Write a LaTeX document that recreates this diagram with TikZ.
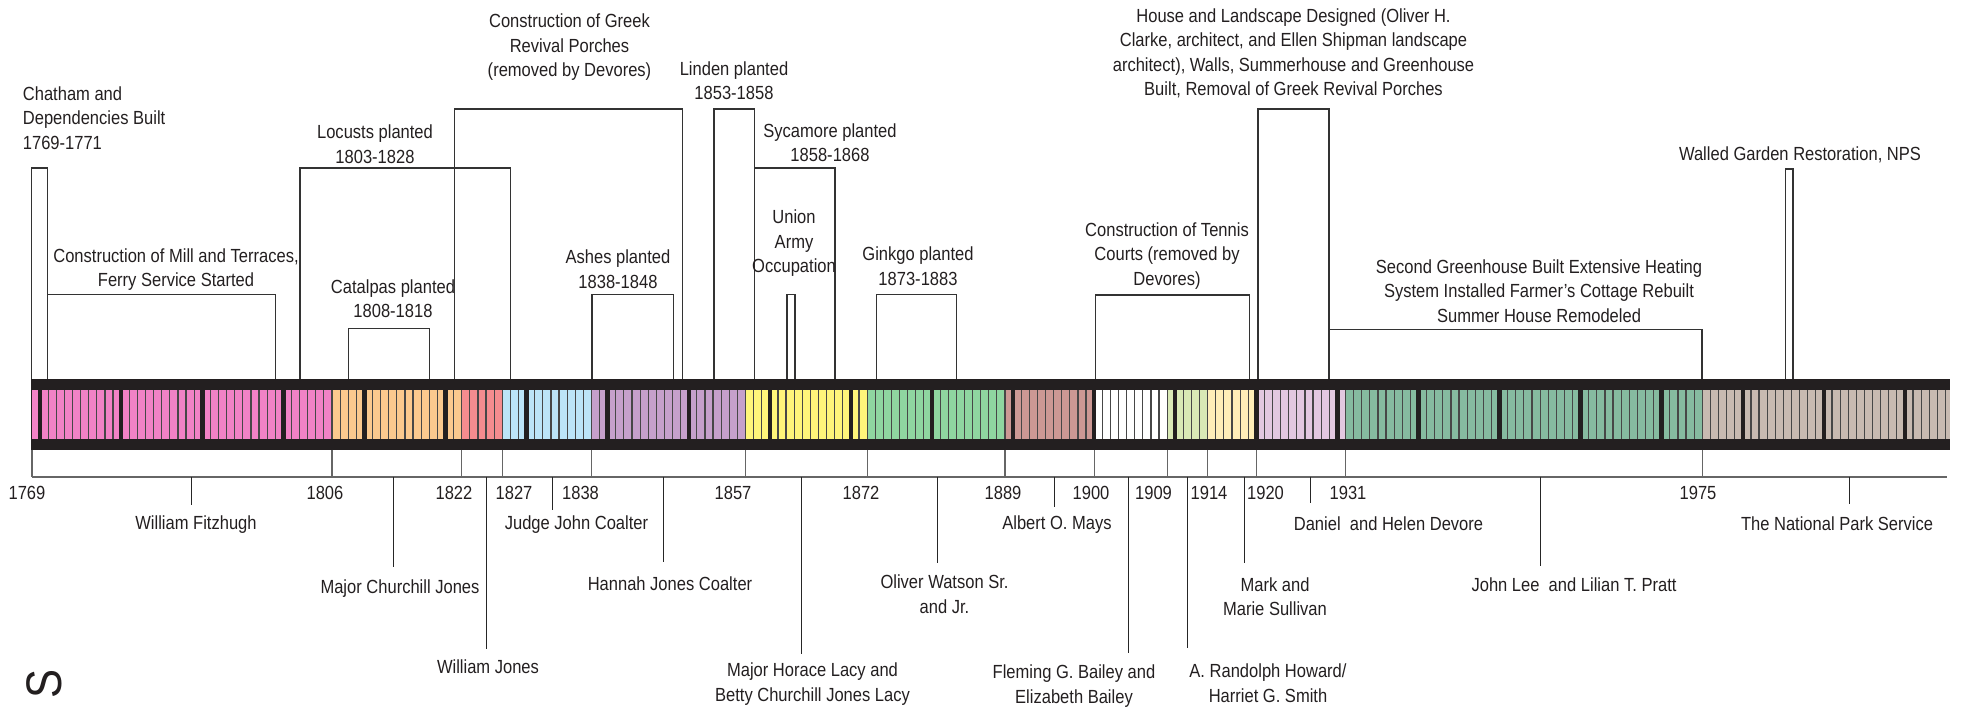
\documentclass[tikz,border=0pt]{standalone}
\usepackage{fontspec}
\setmainfont[FakeStretch=0.87]{Liberation Sans}
\definecolor{barc}{HTML}{231F20}
\definecolor{txt}{HTML}{231F20}
\definecolor{cpink}{HTML}{F282C6}
\definecolor{corange}{HTML}{FBC98E}
\definecolor{csalmon}{HTML}{F58C8F}
\definecolor{cblue}{HTML}{BCE4F7}
\definecolor{cpurple}{HTML}{C6A0CB}
\definecolor{cyellow}{HTML}{FFF57A}
\definecolor{cgreen}{HTML}{8FD6A0}
\definecolor{crosy}{HTML}{CC9894}
\definecolor{cwhite}{HTML}{FFFFFF}
\definecolor{clgreen}{HTML}{D9E9B5}
\definecolor{clyellow}{HTML}{FFEDB8}
\definecolor{clav}{HTML}{E3C8E0}
\definecolor{cteal}{HTML}{86BBA0}
\definecolor{ctaupe}{HTML}{C8BAB1}
\begin{document}
\begin{tikzpicture}[x=0.5pt,y=-0.5pt,
  lbl/.style={inner sep=0pt, anchor=north, align=center, text=txt,
              font=\fontsize{9.5pt}{12.3pt}\selectfont},
  evbox/.style={draw=black!80, line width=0.65pt},
  tickline/.style={draw=black!60, line width=0.6pt},
  leader/.style={draw=black!85, line width=0.5pt},
  sepline/.style={draw=black!72, line width=0.6pt},
]
\useasboundingbox (0,0) rectangle (1971,710);

% ---------- the bar ----------
\fill[barc] (30.7,379.3) rectangle (1950,450);
\foreach \a/\b/\c in {1769/1806/cpink,1806/1822/corange,1822/1827/csalmon,
  1827/1838/cblue,1838/1857/cpurple,1857/1872/cyellow,1872/1889/cgreen,
  1889/1900/crosy,1900/1909/cwhite,1909/1914/clgreen,1914/1920/clyellow,
  1920/1931/clav,1931/1975/cteal}
  \fill[\c] ({32+(\a-1769)*8.108},390) rectangle ({32+(\b-1769)*8.108},439.3);
\fill[ctaupe] ({32+(1975-1769)*8.108},390) rectangle (1950,439.3);
\foreach \y in {1770,...,2005}
  \draw[sepline] ({32+(\y-1769)*8.108},390) -- ++(0,49.3);
\foreach \y in {1770,1780,...,2000}
  \fill[barc] ({32+(\y-1769)*8.108-2.25},390) rectangle ++(4.5,49.3);

% ---------- owner boundaries below the bar ----------
\foreach \y in {1769,1806,1822,1827,1838,1857,1872,1889,1900,1909,1914,1920,1931,1975}
  \draw[tickline] ({32+(\y-1769)*8.108},450) -- ({32+(\y-1769)*8.108},477);
\draw[tickline] (32,477) -- (1947,477);

% year labels
\foreach \n/\x in {1769/27,1806/325,1822/454,1827/514,1838/580.5,1857/733,
  1872/861,1889/1003,1900/1091,1909/1153.5,1914/1209,1920/1265.5,1931/1348,1975/1698}
  \node[lbl] (y\n) at (\x,486) {\n};

% ---------- owners ----------
\coordinate (lFitz) at (191.5,477);
\coordinate (lMCJ)  at (393,477);
\coordinate (lWJ)   at (486,477);
\coordinate (lJJC)  at (552.7,477);
\coordinate (lHJC)  at (663.8,477);
\coordinate (lMHL)  at (801.8,477);
\coordinate (lOW)   at (937,477);
\coordinate (lAOM)  at (1054,477);
\coordinate (lFGB)  at (1128,477);
\coordinate (lARH)  at (1187,477);
\coordinate (lMMS)  at (1244.6,477);
\coordinate (lDHD)  at (1310.7,477);
\coordinate (lJLP)  at (1540.5,477);
\coordinate (lNPS)  at (1849,477);

\node[lbl] (oFitz) at (196,515.5) {William Fitzhugh};
\node[lbl] (oMCJ)  at (400,579) {Major Churchill Jones};
\node[lbl] (oWJ)   at (488,659) {William Jones};
\node[lbl] (oJJC)  at (576.5,515.7) {Judge John Coalter};
\node[lbl] (oHJC)  at (670,576) {Hannah Jones Coalter};
\node[lbl] (oMHL)  at (812.5,662.5) {Major Horace Lacy and\\Betty Churchill Jones Lacy};
\node[lbl] (oOW)   at (944.5,574.7) {Oliver Watson Sr.\\and Jr.};
\node[lbl] (oAOM)  at (1057,515.7) {Albert O. Mays};
\node[lbl] (oFGB)  at (1074,664.5) {Fleming G. Bailey and\\Elizabeth Bailey};
\node[lbl] (oARH)  at (1268,663.5) {A. Randolph Howard/\\Harriet G. Smith};
\node[lbl] (oMMS)  at (1275,577) {Mark and\\Marie Sullivan};
\node[lbl] (oDHD)  at (1388.5,516.5) {Daniel~ and Helen Devore};
\node[lbl] (oJLP)  at (1574,577) {John Lee~ and Lilian T. Pratt};
\node[lbl] (oNPS)  at (1837,516) {The National Park Service};

\draw[leader] (lFitz) -- ++(0,28);
\draw[leader] (lMCJ)  -- ++(0,90);
\draw[leader] (lWJ)   -- ++(0,172);
\draw[leader] (lJJC)  -- ++(0,33);
\draw[leader] (lHJC)  -- ++(0,85);
\draw[leader] (lMHL)  -- ++(0,177);
\draw[leader] (lOW)   -- ++(0,86);
\draw[leader] (lAOM)  -- ++(0,30);
\draw[leader] (lFGB)  -- ++(0,176);
\draw[leader] (lARH)  -- ++(0,171);
\draw[leader] (lMMS)  -- ++(0,86);
\draw[leader] (lDHD)  -- ++(0,26);
\draw[leader] (lJLP)  -- ++(0,89);
\draw[leader] (lNPS)  -- ++(0,27);

% ---------- events above the bar ----------
\draw[evbox] (31.5,379) |- (47.8,168) -- (47.8,379);
\draw[evbox] (47.8,379) |- (275.4,294.3) -- (275.4,379);
\draw[evbox] (300,379) |- (510.7,168) -- (510.7,379);
\draw[evbox] (348.7,379) |- (429.7,328.3) -- (429.7,379);
\draw[evbox] (454.3,379) |- (682.3,109) -- (682.3,379);
\draw[evbox] (592,379) |- (673.5,294.3) -- (673.5,379);
\draw[evbox] (714,379) |- (754.5,109) -- (754.5,379);
\draw[evbox] (754.5,379) |- (835,168) -- (835,379);
\draw[evbox] (787,379) |- (795,294.3) -- (795,379);
\draw[evbox] (876.3,379) |- (956.7,294.3) -- (956.7,379);
\draw[evbox] (1095.5,379) |- (1249.2,295) -- (1249.2,379);
\draw[evbox] (1258,379) |- (1329,109) -- (1329,379);
\draw[evbox] (1329,379) |- (1702,329.3) -- (1702,379);
\draw[evbox] (1785.7,379) |- (1793,169) -- (1793,379);

\node[lbl, anchor=north west, align=left] (eChat) at (22.5,86) {Chatham and\\Dependencies Built\\1769-1771};
\node[lbl] (eMill) at (176,248) {Construction of Mill and Terraces,\\Ferry Service Started};
\node[lbl] (eLoc)  at (375,124.5) {Locusts planted\\1803-1828};
\node[lbl] (eCat)  at (393,279) {Catalpas planted\\1808-1818};
\node[lbl] (eGreek) at (569.5,13.5) {Construction of Greek\\Revival Porches\\(removed by Devores)};
\node[lbl] (eAsh)  at (618,249.5) {Ashes planted\\1838-1848};
\node[lbl] (eLin)  at (734,61) {Linden planted\\1853-1858};
\node[lbl] (eSyc)  at (830,123) {Sycamore planted\\1858-1868};
\node[lbl] (eUnion) at (794,209.5) {Union\\Army\\Occupation};
\node[lbl] (eGink) at (918,246.5) {Ginkgo planted\\1873-1883};
\node[lbl] (eTen)  at (1167,222) {Construction of Tennis\\Courts (removed by\\Devores)};
\node[lbl] (eHouse) at (1293.5,8) {House and Landscape Designed (Oliver H.\\Clarke, architect, and Ellen Shipman landscape\\architect), Walls, Summerhouse and Greenhouse\\Built, Removal of Greek Revival Porches};
\node[lbl] (eSGH)  at (1539,259) {Second Greenhouse Built Extensive Heating\\System Installed Farmer’s Cottage Rebuilt\\Summer House Remodeled};
\node[lbl] (eWall) at (1800,146.3) {Walled Garden Restoration, NPS};

% cut-off vertical text at the lower left
\node[inner sep=0pt, rotate=90, text=txt, font=\fontsize{25pt}{25pt}\selectfont] (sGlyph) at (44,684) {S};
\end{tikzpicture}
\end{document}
